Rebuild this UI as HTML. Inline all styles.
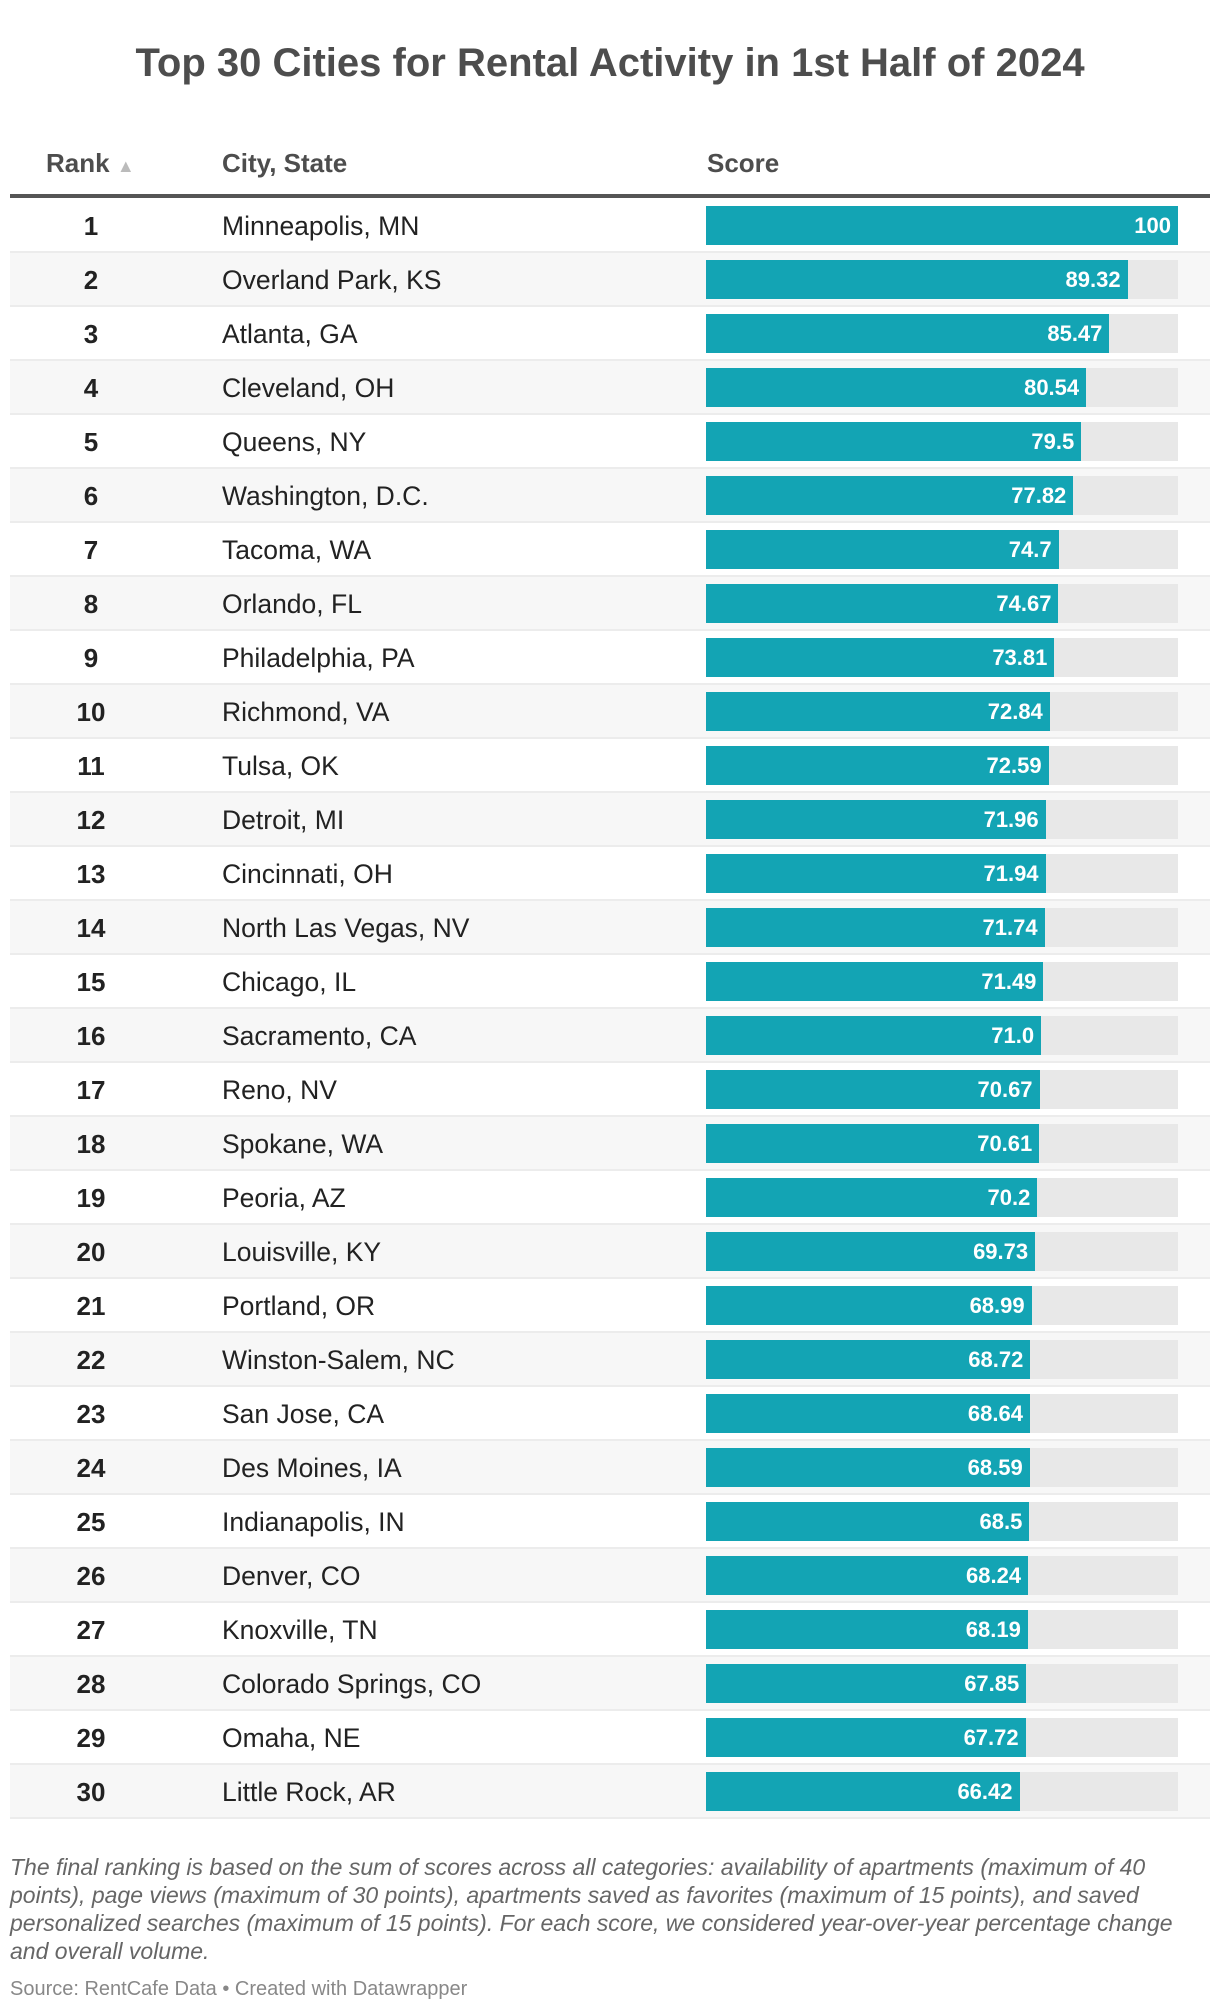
<!DOCTYPE html>
<html><head><meta charset="utf-8">
<style>
body{margin:0;width:1220px;height:2014px;background:#fff;font-family:"Liberation Sans",sans-serif;position:relative;overflow:hidden}
.t{position:absolute;white-space:nowrap}
</style></head><body>
<div class="t" style="left:0;width:1220px;text-align:center;top:41px;font-size:40px;font-weight:bold;color:#4d4d4d">Top 30 Cities for Rental Activity in 1st Half of 2024</div>
<div class="t" style="left:46px;top:148px;font-size:26px;font-weight:bold;color:#4d4d4d">Rank <span style="color:#bbb;font-size:18px">▲</span></div>
<div class="t" style="left:222px;top:148px;font-size:26px;font-weight:bold;color:#4d4d4d">City, State</div>
<div class="t" style="left:707px;top:148px;font-size:26px;font-weight:bold;color:#4d4d4d">Score</div>
<div style="position:absolute;left:10px;width:1200px;top:194px;height:4px;background:#555"></div>
<div id="rows"></div>
<div style="position:absolute;left:10px;width:1205px;top:1853px;font-size:23px;line-height:28px;font-style:italic;color:#666">The final ranking is based on the sum of scores across all categories: availability of apartments (maximum of 40 points), page views (maximum of 30 points), apartments saved as favorites (maximum of 15 points), and saved personalized searches (maximum of 15 points). For each score, we considered year-over-year percentage change and overall volume.</div>
<div class="t" style="left:10px;top:1978px;font-size:20px;color:#888">Source: RentCafe Data • Created with Datawrapper</div>
<script>
const cities=["Minneapolis, MN","Overland Park, KS","Atlanta, GA","Cleveland, OH","Queens, NY","Washington, D.C.","Tacoma, WA","Orlando, FL","Philadelphia, PA","Richmond, VA","Tulsa, OK","Detroit, MI","Cincinnati, OH","North Las Vegas, NV","Chicago, IL","Sacramento, CA","Reno, NV","Spokane, WA","Peoria, AZ","Louisville, KY","Portland, OR","Winston-Salem, NC","San Jose, CA","Des Moines, IA","Indianapolis, IN","Denver, CO","Knoxville, TN","Colorado Springs, CO","Omaha, NE","Little Rock, AR"];
const scores=[100,89.32,85.47,80.54,79.5,77.82,74.7,74.67,73.81,72.84,72.59,71.96,71.94,71.74,71.49,71.0,70.67,70.61,70.2,69.73,68.99,68.72,68.64,68.59,68.5,68.24,68.19,67.85,67.72,66.42];
const labels=["100","89.32","85.47","80.54","79.5","77.82","74.7","74.67","73.81","72.84","72.59","71.96","71.94","71.74","71.49","71.0","70.67","70.61","70.2","69.73","68.99","68.72","68.64","68.59","68.5","68.24","68.19","67.85","67.72","66.42"];
const maxScore=100;
const x0=706,fullW=472,rowTop=199,rowH=54,barH=39;
const xs=v=>v/maxScore*fullW;
const root=document.getElementById('rows');
cities.forEach((c,i)=>{
  const y=rowTop+i*rowH;
  const r=document.createElement('div');
  
  
  r.style.cssText=`position:absolute;left:10px;width:1200px;top:${y}px;height:${rowH-2}px;background:${i%2?'#f7f7f7':'#fff'};border-bottom:2px solid #ececec`;
  root.appendChild(r);
  const rk=document.createElement('div');
  
  
  rk.className='t';
  rk.style.cssText=`left:41px;width:100px;text-align:center;top:${y+12}px;font-size:26px;font-weight:bold;color:#222`;
  rk.textContent=i+1;root.appendChild(rk);
  const ct=document.createElement('div');
  
  
  ct.className='t';
  ct.style.cssText=`left:222px;top:${y+12}px;font-size:26.5px;color:#222`;
  ct.textContent=c;root.appendChild(ct);
  const bg=document.createElement('div');
  
  
  bg.style.cssText=`position:absolute;left:${x0}px;width:${fullW}px;top:${y+7}px;height:${barH}px;background:#e8e8e8`;
  root.appendChild(bg);
  const b=document.createElement('div');
  
  
  b.style.cssText=`position:absolute;left:${x0}px;width:${xs(scores[i])}px;top:${y+7}px;height:${barH}px;background:#13a4b4;color:#fff;font-weight:bold;font-size:22px;text-align:right;box-sizing:border-box;padding-right:7px;line-height:${barH}px`;
  b.textContent=labels[i];root.appendChild(b);
});
</script>
</body></html>
